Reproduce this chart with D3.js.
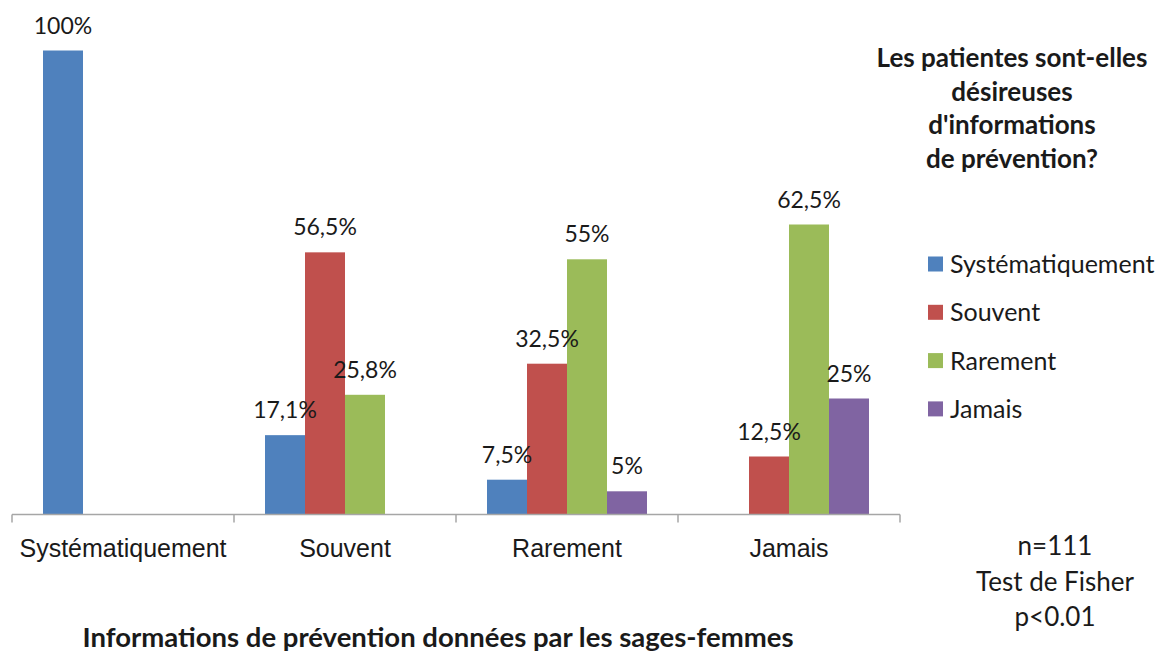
<!DOCTYPE html>
<html>
<head>
<meta charset="utf-8">
<script src="https://cdn.jsdelivr.net/npm/d3@7"></script>
<style>
  body { margin: 0; background: #fff; }
  svg { display: block; font-family: Lato, "Open Sans", sans-serif; }
</style>
</head>
<body>
<svg id="chart" width="1172" height="655"></svg>
<script>
  'use strict';

  // categories on x axis (information given by midwives)
  var categories = ["Systématiquement", "Souvent", "Rarement", "Jamais"];
  // series = answer of patients (legend)
  var series = ["Systématiquement", "Souvent", "Rarement", "Jamais"];
  var colors = ["#4F81BD", "#C0504D", "#9BBB59", "#8064A2"];

  // values in %, one array per series
  var systematiquement = [100, 17.1, 7.5, 0];
  var souvent = [0, 56.5, 32.5, 12.5];
  var rarement = [0, 25.8, 55, 62.5];
  var jamais = [0, 0, 5, 25];
  var values = [systematiquement, souvent, rarement, jamais];

  var titleLines = ["Les patientes sont-elles", "désireuses", "d'informations", "de prévention?"];
  var noteLines = ["n=111", "Test de Fisher", "p<0.01"];
  var xTitle = "Informations de prévention données par les sages-femmes";

  var svg = d3.select("#chart");
  var textColor = "#1a1a1a";

  var x0 = d3.scaleBand().domain(categories).range([12, 900]).padding(0);
  var x1 = d3.scaleBand().domain(series).range([0, x0.bandwidth()])
    .paddingInner(0).paddingOuter(0.775);
  var y = d3.scaleLinear().domain([0, 100]).range([514.5, 50.5]);

  var fmt = function(v) { return String(v).replace(".", ",") + "%"; };

  // flatten data
  var bars = [];
  categories.forEach(function(c, i) {
    series.forEach(function(s, j) {
      bars.push({ cat: c, ser: s, j: j, value: values[j][i] });
    });
  });

  var g = svg.append("g");

  g.selectAll("rect.bar")
    .data(bars.filter(function(d) { return d.value > 0; }))
    .enter().append("rect")
    .attr("class", "bar")
    .attr("x", function(d) { return x0(d.cat) + x1(d.ser); })
    .attr("y", function(d) { return y(d.value); })
    .attr("width", x1.bandwidth())
    .attr("height", function(d) { return y(0) - y(d.value); })
    .attr("fill", function(d) { return colors[d.j]; });

  g.selectAll("text.lbl")
    .data(bars.filter(function(d) { return d.value > 0; }))
    .enter().append("text")
    .attr("class", "lbl")
    .attr("x", function(d) { return x0(d.cat) + x1(d.ser) + x1.bandwidth() / 2; })
    .attr("y", function(d) { return y(d.value) - 17; })
    .attr("text-anchor", "middle")
    .attr("font-size", 23)
    .attr("fill", textColor)
    .text(function(d) { return fmt(d.value); });

  // x axis
  var axis = d3.axisBottom(x0).tickSize(0).tickPadding(0).tickFormat("");
  var ax = svg.append("g").attr("transform", "translate(0," + 514.5 + ")").call(axis);
  ax.select(".domain").attr("stroke", "#a6a6a6").attr("stroke-width", 1.5)
    .attr("d", "M12,0H900");
  var edges = categories.map(function(c) { return x0(c); }).concat([900]);
  ax.selectAll("line.edge").data(edges).enter().append("line")
    .attr("class", "edge")
    .attr("x1", function(d) { return d; }).attr("x2", function(d) { return d; })
    .attr("y1", 0).attr("y2", 8)
    .attr("stroke", "#a6a6a6").attr("stroke-width", 1.5);
  ax.selectAll("text.cat").data(categories).enter().append("text")
    .attr("class", "cat")
    .attr("x", function(d) { return x0(d) + x0.bandwidth() / 2; })
    .attr("y", 42)
    .attr("text-anchor", "middle")
    .attr("font-size", 25)
    .attr("fill", textColor)
    .text(function(d) { return d; });

  // x axis title
  svg.append("text")
    .attr("x", 438).attr("y", 647)
    .attr("text-anchor", "middle")
    .attr("font-size", 27.5).attr("font-weight", "bold")
    .attr("fill", textColor)
    .text(xTitle);

  // legend title
  svg.append("g").selectAll("text").data(titleLines).enter().append("text")
    .attr("x", 1012)
    .attr("y", function(d, i) { return 67 + i * 33.5; })
    .attr("text-anchor", "middle")
    .attr("font-size", 26).attr("font-weight", "bold")
    .attr("fill", textColor)
    .text(function(d) { return d; });

  // legend
  var leg = svg.append("g").selectAll("g").data(series).enter().append("g")
    .attr("transform", function(d, i) { return "translate(928," + (264 + i * 48.3) + ")"; });
  leg.append("rect").attr("x", 0).attr("y", -7.5).attr("width", 15).attr("height", 15)
    .attr("fill", function(d, i) { return colors[i]; });
  leg.append("text").attr("x", 22).attr("y", 9)
    .attr("font-size", 25).attr("fill", textColor)
    .text(function(d) { return d; });

  // note
  svg.append("g").selectAll("text").data(noteLines).enter().append("text")
    .attr("x", 1055)
    .attr("y", function(d, i) { return 555 + i * 35.5; })
    .attr("text-anchor", "middle")
    .attr("font-size", 26).attr("fill", textColor)
    .text(function(d) { return d; });
</script>
</body>
</html>
